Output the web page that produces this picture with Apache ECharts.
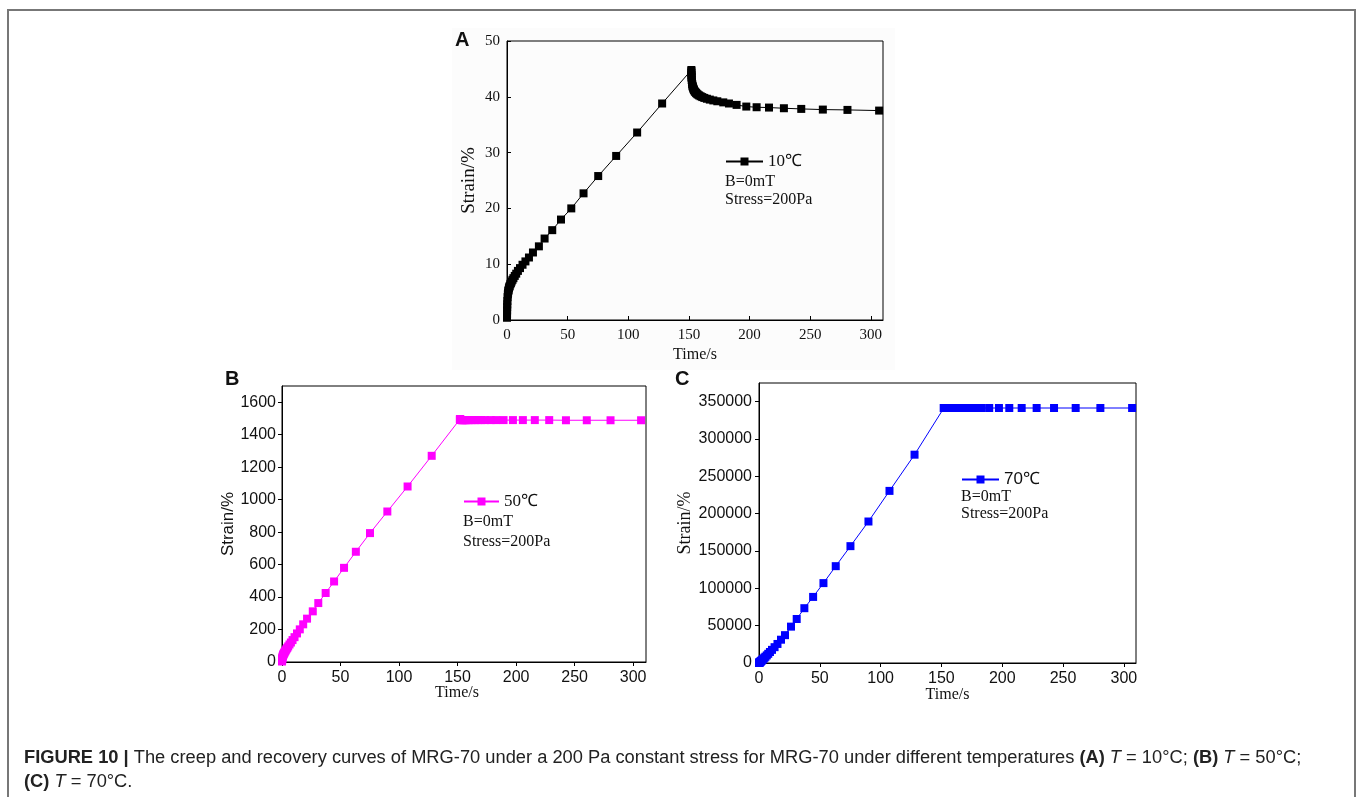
<!DOCTYPE html>
<html>
<head>
<meta charset="utf-8">
<script src="https://cdn.jsdelivr.net/npm/echarts@6/dist/echarts.min.js"></script>
<style>
html,body{margin:0;padding:0;background:#fff;}
#chart{width:1358px;height:797px;}
</style>
</head>
<body>
<div id="chart"></div>
<script>
// ---------------- data ----------------
const timeCreep = [0.02,0.05,0.1,0.15,0.2,0.3,0.5,0.7,0.9,1.1,1.3,1.6,1.9,2.2,2.7,3.2,3.8,4.5,5.3,6.4,7.6,9.0,10.7,12.8,15.2,18.1,21.4,26.3,31.0,37.3,44.5,53.0,63.1,75.2,90.0,107.3,127.9,152.0];
const timeRecovery = [152.02,152.05,152.1,152.15,152.2,152.3,152.5,152.7,152.9,153.1,153.3,153.6,153.9,154.2,154.7,155.2,155.8,156.5,157.3,158.4,159.6,161.0,162.7,164.8,167.2,170.1,173.4,178.3,183.0,189.3,197.3,205.8,216.0,228.3,242.6,260.4,280.7,306.8];

const strainA_creep = [0.4,1.0,1.7,2.3,2.8,3.4,4.1,4.6,4.9,5.2,5.4,5.7,5.9,6.1,6.4,6.6,6.9,7.2,7.5,7.9,8.3,8.8,9.3,9.9,10.5,11.2,12.1,13.2,14.6,16.1,18.0,20.0,22.7,25.8,29.4,33.6,38.8,44.8];
const strainA_recovery = [44.6,44.3,43.9,43.6,43.4,43.0,42.6,42.3,42.0,41.85,41.7,41.5,41.35,41.2,41.0,40.85,40.7,40.55,40.4,40.25,40.1,39.95,39.8,39.65,39.5,39.35,39.2,39.0,38.8,38.55,38.25,38.13,38.07,37.95,37.83,37.71,37.65,37.53];

const strainB_creep = [3,8,14,18,21,26,32,37,41,45,48,52,56,60,66,72,79,87,96,108,120,135,153,176,201,232,267,312,363,425,496,580,679,794,927,1081,1270,1495];
const strainB_recovery = [1494,1493,1493,1492,1492,1492,1491,1491,1491,1491,1490,1490,1490,1490,1490,1490,1490,1490,1490,1490,1490,1490,1490,1490,1490,1490,1490,1490,1490,1490,1490,1490,1490,1490,1489,1489,1489,1489];

const strainC_creep = [30,80,160,240,320,480,800,1100,1400,1700,2000,2450,2900,3400,4200,5000,5900,7100,8400,10200,12300,14700,17600,21200,25500,31200,37300,48700,58900,73400,88500,107000,129700,156500,189500,230500,279000,341500];
const strainC_recovery = [341500,341500,341500,341500,341500,341500,341500,341500,341500,341500,341500,341500,341500,341500,341500,341500,341500,341500,341500,341500,341500,341500,341500,341500,341500,341500,341500,341500,341500,341500,341500,341500,341500,341500,341500,341500,341500,341500];

const xTickLabels = [0,50,100,150,200,250,300];
const yTickLabelsA = [0,10,20,30,40,50];
const yTickLabelsB = [0,200,400,600,800,1000,1200,1400,1600];
const yTickLabelsC = [0,50000,100000,150000,200000,250000,300000,350000];

const seriesNames = ['10℃','50℃','70℃'];
const annotation = ['B=0mT','Stress=200Pa'];
const panelLabels = ['A','B','C'];
const axisNameX = 'Time/s';
const axisNameY = 'Strain/%';

// ---------------- build ----------------
function pairs(ts, vs){ return ts.map((t,i)=>[t, vs[i]]); }
const dataA = pairs(timeCreep, strainA_creep).concat(pairs(timeRecovery, strainA_recovery));
const dataB = pairs(timeCreep, strainB_creep).concat(pairs(timeRecovery, strainB_recovery));
const dataC = pairs(timeCreep, strainC_creep).concat(pairs(timeRecovery, strainC_recovery));

const SERIF = 'Liberation Serif, Times New Roman, serif';
const SANS = 'Liberation Sans, Arial, sans-serif';
const plain = v => String(v);

function xAxis(grid, max, font, fontSize, nameGap, inside, margin, namePad){
  return {
    type:'value', gridIndex:grid, min:0, max:max,
    name:axisNameX, nameLocation:'middle', nameGap:nameGap, nameMoveOverlap:false,
    nameTextStyle:{fontFamily:SERIF, fontSize:16, color:'#111', padding:namePad||0},
    axisLine:{show:true, lineStyle:{color:'#000', width:1}},
    axisTick:{show:true, inside:inside, length:4, customValues:xTickLabels, lineStyle:{color:'#000'}},
    axisLabel:{customValues:xTickLabels, formatter:plain, fontFamily:font, fontSize:fontSize, color:'#111', margin:margin},
    splitLine:{show:false}
  };
}
function yAxis(grid, max, ticks, font, fontSize, nameFont, nameSize, nameGap, inside, margin){
  return {
    type:'value', gridIndex:grid, min:0, max:max,
    name:axisNameY, nameLocation:'middle', nameGap:nameGap, nameMoveOverlap:false,
    nameTextStyle:{fontFamily:nameFont, fontSize:nameSize, color:'#111'},
    axisLine:{show:true, lineStyle:{color:'#000', width:1}},
    axisTick:{show:true, inside:inside, length:4, customValues:ticks, lineStyle:{color:'#000'}},
    axisLabel:{customValues:ticks, formatter:plain, fontFamily:font, fontSize:fontSize, color:'#111', margin:margin},
    splitLine:{show:false}
  };
}
function series(name, idx, data, color){
  return {
    name:name, type:'line', xAxisIndex:idx, yAxisIndex:idx, data:data,
    symbol:'rect', symbolSize:8, showSymbol:true,
    itemStyle:{color:color},
    lineStyle:{color:color, width:1},
    emphasis:{disabled:true}, silent:true
  };
}
function txt(x, y, text, font, size, weight){
  return {type:'text', style:{x:x, y:y, text:text, font:(weight?weight+' ':'')+size+'px '+font, fill:'#111', verticalAlign:'middle', align:'left'}};
}
const CAP = 18.3;
const capRich = {
  b:{fontWeight:'bold', fontSize:CAP, fontFamily:SANS, fill:'#222'},
  i:{fontStyle:'italic', fontSize:CAP, fontFamily:SANS, fill:'#222'}
};

const chart = echarts.init(document.getElementById('chart'), null, {renderer:'canvas'});
const option = {
  animation:false,
  backgroundColor:'#fff',
  grid:[
    {left:507, top:41, width:376, height:279, show:true, borderColor:'#000', borderWidth:1},
    {left:282, top:386, width:364, height:276, show:true, borderColor:'#000', borderWidth:1},
    {left:759, top:383, width:377, height:280, show:true, borderColor:'#000', borderWidth:1}
  ],
  xAxis:[
    xAxis(0, 310, SERIF, 15, 27, true, 8),
    xAxis(1, 311, SANS, 16, 23, false, 8, [0,14,0,0]),
    xAxis(2, 310, SANS, 16, 24, false, 8)
  ],
  yAxis:[
    yAxis(0, 50, yTickLabelsA, SERIF, 15, SERIF, 19, 28, true, 7),
    yAxis(1, 1700, yTickLabelsB, SANS, 16, SANS, 17, 45, false, 6),
    yAxis(2, 375000, yTickLabelsC, SANS, 16, SERIF, 18, 65, false, 7)
  ],
  legend:[
    {data:[seriesNames[0]], left:725, top:153, itemWidth:37, itemHeight:10, padding:0, selectedMode:false,
     textStyle:{fontFamily:SERIF, fontSize:17, color:'#111'}},
    {data:[seriesNames[1]], left:463, top:493, itemWidth:35, itemHeight:10, padding:0, selectedMode:false,
     textStyle:{fontFamily:SERIF, fontSize:17, color:'#111'}},
    {data:[seriesNames[2]], left:961, top:471, itemWidth:37, itemHeight:10, padding:0, selectedMode:false,
     formatter:function(){return '{s|70}{c|℃}';},
     textStyle:{fontFamily:SANS, fontSize:17, color:'#111',
       rich:{s:{fontFamily:SANS, fontSize:17, color:'#111'}, c:{fontFamily:SERIF, fontSize:17, color:'#111'}}}}
  ],
  series:[
    series(seriesNames[0], 0, dataA, '#000000'),
    series(seriesNames[1], 1, dataB, '#ff00ff'),
    series(seriesNames[2], 2, dataC, '#0000ff')
  ],
  graphic:[
    {type:'rect', z:-10, shape:{x:8, y:10, width:1347, height:800}, style:{fill:'none', stroke:'#777', lineWidth:2}},
    {type:'rect', z:-9, shape:{x:452, y:28, width:443, height:342}, style:{fill:'#fcfcfc'}},
    txt(455, 40, panelLabels[0], SANS, 20, 'bold'),
    txt(225, 379, panelLabels[1], SANS, 20, 'bold'),
    txt(675, 379, panelLabels[2], SANS, 20, 'bold'),
    txt(725, 182, annotation[0], SERIF, 16),
    txt(725, 200, annotation[1], SERIF, 16),
    txt(463, 522, annotation[0], SERIF, 16),
    txt(463, 542, annotation[1], SERIF, 16),
    txt(961, 497, annotation[0], SERIF, 16),
    txt(961, 514, annotation[1], SERIF, 16),
    {type:'text', style:{x:24, y:758, verticalAlign:'middle', fill:'#222', font:CAP+'px '+SANS,
      text:'{b|FIGURE 10 |} The creep and recovery curves of MRG-70 under a 200 Pa constant stress for MRG-70 under different temperatures {b|(A)} {i|T} = 10°C; {b|(B)} {i|T} = 50°C;',
      rich:capRich}},
    {type:'text', style:{x:24, y:782, verticalAlign:'middle', fill:'#222', font:CAP+'px '+SANS,
      text:'{b|(C)} {i|T} = 70°C.',
      rich:capRich}}
  ]
};
chart.setOption(option);
</script>
</body>
</html>
